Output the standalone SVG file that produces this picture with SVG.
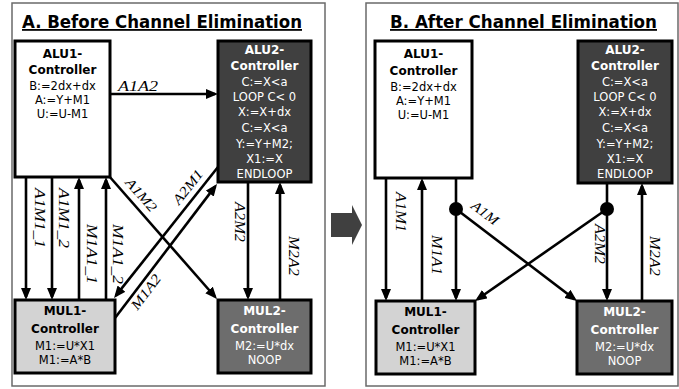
<svg xmlns="http://www.w3.org/2000/svg" width="679" height="389" viewBox="0 0 679 389">
  <style>
    .panel { fill: #ffffff; stroke: #6a6a6a; stroke-width: 1.5; }
    .title { font-family: "DejaVu Sans", Verdana, sans-serif; font-weight: bold; font-size: 18px; fill: #000; text-decoration: underline; }
    .node rect { stroke: #000; stroke-width: 3; }
    .node text { font-family: "DejaVu Sans", Verdana, sans-serif; font-size: 11.5px; text-anchor: middle; }
    .node text.hd { font-weight: bold; font-size: 12px; }
    .white rect { fill: #ffffff; }
    .dark rect { fill: #404040; }
    .light rect { fill: #d3d3d3; }
    .mid rect { fill: #6d6d6d; }
    .white text, .light text { fill: #000; }
    .dark text, .mid text { fill: #ffffff; }
    .conn line { stroke: #000; stroke-width: 2.6; fill: none; }
    .conn line.arr { marker-end: url(#head); }
    .lbl { font-family: "Liberation Serif", "Times New Roman", serif; font-style: italic; font-size: 14px; fill: #000; text-anchor: middle; dominant-baseline: central; }
  </style>
  <defs>
    <marker id="head" markerUnits="userSpaceOnUse" markerWidth="12" markerHeight="10" refX="9" refY="5" orient="auto">
      <path d="M0,0 L12,5 L0,10 z" fill="#000"/>
    </marker>
  </defs>

  <!-- panel frames -->
  <rect class="panel" x="12" y="3" width="313" height="383"/>
  <rect class="panel" x="366" y="3" width="312" height="383"/>
  <text class="title" x="22" y="28" textLength="280" lengthAdjust="spacingAndGlyphs">A. Before Channel Elimination</text>
  <text class="title" x="390" y="28" textLength="267" lengthAdjust="spacingAndGlyphs">B. After Channel Elimination</text>

  <!-- transition arrow between the panels -->
  <polygon points="331,213 352,213 352,205 362,225 352,245 352,237 331,237" fill="#404040"/>

  <!-- ===== panel A connectors ===== -->
  <g id="connectors-a" class="conn">
    <line class="arr" x1="110" y1="94" x2="215" y2="94"/>
    <line class="arr" x1="26" y1="177" x2="26" y2="297"/>
    <line class="arr" x1="52" y1="177" x2="52" y2="297"/>
    <line class="arr" x1="79" y1="300" x2="79" y2="180"/>
    <line class="arr" x1="106" y1="300" x2="106" y2="180"/>
    <line class="arr" x1="109" y1="176" x2="215" y2="296.75"/>
    <line class="arr" x1="218" y1="167" x2="115.9" y2="295.65"/>
    <line class="arr" x1="115" y1="318" x2="215.2" y2="186.4"/>
    <line class="arr" x1="248" y1="182" x2="248" y2="297"/>
    <line class="arr" x1="280" y1="300" x2="280" y2="185"/>
    <text class="lbl" x="118" y="91" textLength="40" lengthAdjust="spacingAndGlyphs" style="text-anchor:start;dominant-baseline:auto">A1A2</text>
    <text class="lbl" transform="translate(39,218) rotate(90)" textLength="60" lengthAdjust="spacingAndGlyphs">A1M1_1</text>
    <text class="lbl" transform="translate(63,218) rotate(90)" textLength="60" lengthAdjust="spacingAndGlyphs">A1M1_2</text>
    <text class="lbl" transform="translate(91,254) rotate(90)" textLength="60" lengthAdjust="spacingAndGlyphs">M1A1_1</text>
    <text class="lbl" transform="translate(117,254) rotate(90)" textLength="60" lengthAdjust="spacingAndGlyphs">M1A1_2</text>
    <text class="lbl" transform="translate(141,195) rotate(48.7)" textLength="40" lengthAdjust="spacingAndGlyphs">A1M2</text>
    <text class="lbl" transform="translate(188,187) rotate(-51.5)" textLength="40" lengthAdjust="spacingAndGlyphs">A2M1</text>
    <text class="lbl" transform="translate(146,292) rotate(-52.7)" textLength="40" lengthAdjust="spacingAndGlyphs">M1A2</text>
    <text class="lbl" transform="translate(239,222) rotate(90)" textLength="40" lengthAdjust="spacingAndGlyphs">A2M2</text>
    <text class="lbl" transform="translate(293,256) rotate(90)" textLength="40" lengthAdjust="spacingAndGlyphs">M2A2</text>
  </g>

  <!-- ===== panel A nodes ===== -->
  <g id="a-alu1" class="node white">
    <rect x="15" y="41" width="95" height="136"/>
    <text class="hd" x="62.5" y="58">ALU1-</text>
    <text class="hd" x="62.5" y="74">Controller</text>
    <text x="62.5" y="90">B:=2dx+dx</text>
    <text x="62.5" y="104">A:=Y+M1</text>
    <text x="62.5" y="118">U:=U-M1</text>
  </g>
  <g id="a-alu2" class="node dark">
    <rect x="218" y="41" width="93" height="141"/>
    <text class="hd" x="264.5" y="54">ALU2-</text>
    <text class="hd" x="264.5" y="70">Controller</text>
    <text x="264.5" y="86">C:=X&lt;a</text>
    <text x="264.5" y="101">LOOP C&lt; 0</text>
    <text x="264.5" y="116">X:=X+dx</text>
    <text x="264.5" y="132">C:=X&lt;a</text>
    <text x="264.5" y="148">Y:=Y+M2;</text>
    <text x="264.5" y="163">X1:=X</text>
    <text x="264.5" y="178">ENDLOOP</text>
  </g>
  <g id="a-mul1" class="node light">
    <rect x="15" y="300" width="100" height="73"/>
    <text class="hd" x="65" y="315">MUL1-</text>
    <text class="hd" x="65" y="333">Controller</text>
    <text x="65" y="350">M1:=U*X1</text>
    <text x="65" y="364">M1:=A*B</text>
  </g>
  <g id="a-mul2" class="node mid">
    <rect x="218" y="300" width="93" height="73"/>
    <text class="hd" x="264.5" y="315">MUL2-</text>
    <text class="hd" x="264.5" y="333">Controller</text>
    <text x="264.5" y="350">M2:=U*dx</text>
    <text x="264.5" y="364">NOOP</text>
  </g>

  <!-- ===== panel B connectors ===== -->
  <g id="connectors-b" class="conn">
    <line class="arr" x1="386" y1="178" x2="386" y2="298"/>
    <line class="arr" x1="422" y1="301" x2="422" y2="181"/>
    <line class="arr" x1="456" y1="178" x2="456" y2="298"/>
    <line class="arr" x1="456" y1="209" x2="574.6" y2="299.2"/>
    <line class="arr" x1="607" y1="209" x2="477.5" y2="299.3"/>
    <line class="arr" x1="607" y1="183" x2="607" y2="298"/>
    <line class="arr" x1="642" y1="301" x2="642" y2="186"/>
    <circle cx="456" cy="209" r="7" fill="#000"/>
    <circle cx="607" cy="209" r="7" fill="#000"/>
    <text class="lbl" transform="translate(400,212) rotate(90)" textLength="40" lengthAdjust="spacingAndGlyphs">A1M1</text>
    <text class="lbl" transform="translate(436,255) rotate(90)" textLength="40" lengthAdjust="spacingAndGlyphs">M1A1</text>
    <text class="lbl" transform="translate(485,213) rotate(37.2)" textLength="30" lengthAdjust="spacingAndGlyphs">A1M</text>
    <text class="lbl" transform="translate(599,244) rotate(90)" textLength="40" lengthAdjust="spacingAndGlyphs">A2M2</text>
    <text class="lbl" transform="translate(654,256) rotate(90)" textLength="40" lengthAdjust="spacingAndGlyphs">M2A2</text>
  </g>

  <!-- ===== panel B nodes ===== -->
  <g id="b-alu1" class="node white">
    <rect x="375" y="41" width="97" height="137"/>
    <text class="hd" x="423.5" y="58">ALU1-</text>
    <text class="hd" x="423.5" y="75">Controller</text>
    <text x="423.5" y="91">B:=2dx+dx</text>
    <text x="423.5" y="105">A:=Y+M1</text>
    <text x="423.5" y="119">U:=U-M1</text>
  </g>
  <g id="b-alu2" class="node dark">
    <rect x="578" y="41" width="94" height="142"/>
    <text class="hd" x="625" y="54">ALU2-</text>
    <text class="hd" x="625" y="70">Controller</text>
    <text x="625" y="86">C:=X&lt;a</text>
    <text x="625" y="101">LOOP C&lt; 0</text>
    <text x="625" y="116">X:=X+dx</text>
    <text x="625" y="132">C:=X&lt;a</text>
    <text x="625" y="148">Y:=Y+M2;</text>
    <text x="625" y="163">X1:=X</text>
    <text x="625" y="178">ENDLOOP</text>
  </g>
  <g id="b-mul1" class="node light">
    <rect x="376" y="301" width="99" height="73"/>
    <text class="hd" x="425.5" y="316">MUL1-</text>
    <text class="hd" x="425.5" y="334">Controller</text>
    <text x="425.5" y="351">M1:=U*X1</text>
    <text x="425.5" y="365">M1:=A*B</text>
  </g>
  <g id="b-mul2" class="node mid">
    <rect x="577" y="301" width="95" height="73"/>
    <text class="hd" x="624.5" y="316">MUL2-</text>
    <text class="hd" x="624.5" y="334">Controller</text>
    <text x="624.5" y="351">M2:=U*dx</text>
    <text x="624.5" y="365">NOOP</text>
  </g>
</svg>
